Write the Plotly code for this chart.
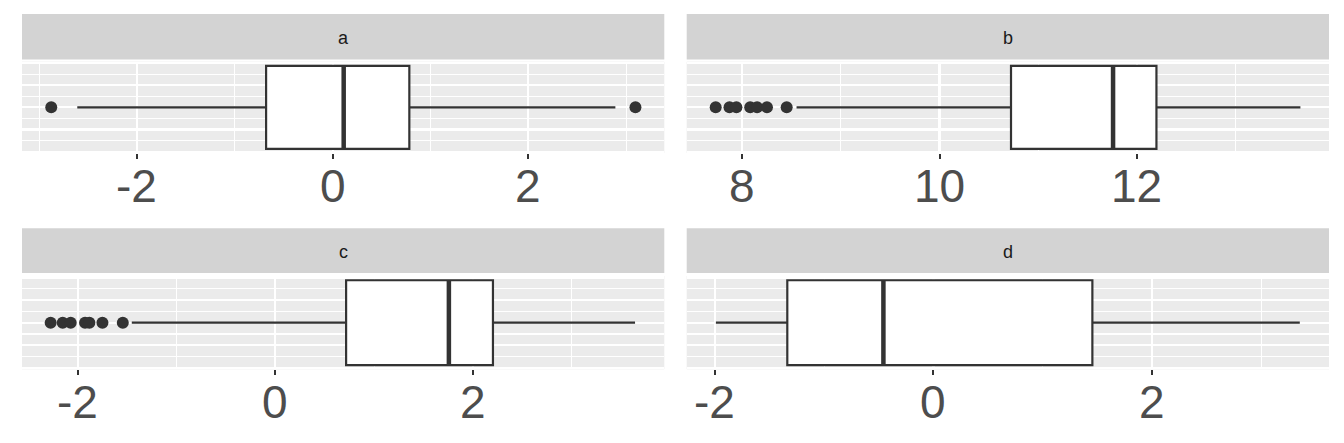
import plotly.graph_objects as go

# ---- data ----
panels = ["a", "b", "c", "d"]
q1 = [-0.68, 10.725, 0.716, -1.337]
median = [0.113, 11.76, 1.756, -0.458]
q3 = [0.784, 12.20, 2.202, 1.453]
lower_whisker = [-2.61, 8.55, -1.453, -1.99]
upper_whisker = [2.89, 13.66, 3.64, 3.35]
outliers = [
    [-2.876, 3.095],
    [7.73, 7.87, 7.94, 8.08, 8.15, 8.25, 8.45],
    [-2.274, -2.152, -2.071, -1.926, -1.882, -1.75, -1.544],
    [],
]
x_ranges = [[-3.175, 3.39], [7.436, 13.95], [-2.564, 3.936], [-2.257, 3.617]]
tick_values = [[-2, 0, 2], [8, 10, 12], [-2, 0, 2], [-2, 0, 2]]
tick_labels = [["-2", "0", "2"], ["8", "10", "12"], ["-2", "0", "2"], ["-2", "0", "2"]]

# ---- layout geometry ----
W, H = 1344, 443
col_x = [(22, 664.3), (686.7, 1329)]
row_panel = [(61.7, 153), (276, 369.3)]
row_strip = [(14, 59.5), (228.3, 273)]
row_label = [186, 402]
box_half = 0.375
y_range = [-0.4125, 0.4125]

DARK = "#333333"
fig = go.Figure()
layout = dict(
    width=W, height=H, margin=dict(l=0, r=0, t=0, b=0, autoexpand=False),
    paper_bgcolor="white", plot_bgcolor="#EBEBEB", showlegend=False,
    font=dict(family="Liberation Sans, Arial, sans-serif"),
)
shapes, annotations = [], []

for i, name in enumerate(panels):
    r, c = divmod(i, 2)
    ax = "" if i == 0 else str(i + 1)
    x0, x1 = col_x[c]
    p0, p1 = row_panel[r]
    s0, s1 = row_strip[r]
    layout["xaxis" + ax] = dict(
        domain=[x0 / W, x1 / W], anchor="y" + ax, range=x_ranges[i],
        tickmode="array", tickvals=tick_values[i], showticklabels=False,
        showgrid=True, gridcolor="white", gridwidth=2.2,
        minor=dict(dtick=1, tick0=0, showgrid=True, gridcolor="white", gridwidth=1.1),
        ticks="outside", ticklen=5, tickwidth=2, tickcolor=DARK,
        zeroline=False, showline=False, fixedrange=True, automargin=False,
    )
    layout["yaxis" + ax] = dict(
        domain=[1 - p1 / H, 1 - p0 / H], anchor="x" + ax, range=y_range,
        tick0=0, dtick=0.2, showgrid=True, gridcolor="white", gridwidth=2.2,
        minor=dict(dtick=0.1, showgrid=True, gridcolor="white", gridwidth=1.1),
        showticklabels=False, ticks="", zeroline=False, showline=False,
        fixedrange=True, automargin=False,
    )
    fig.add_trace(go.Box(
        y=[0], q1=[q1[i]], median=[median[i]], q3=[q3[i]],
        lowerfence=[lower_whisker[i]], upperfence=[upper_whisker[i]],
        orientation="h", width=2 * box_half, whiskerwidth=0,
        fillcolor="white", line=dict(color=DARK, width=2.2),
        boxpoints=False, hoverinfo="skip",
        xaxis="x" + ax, yaxis="y" + ax,
    ))
    fig.add_trace(go.Scatter(
        x=[median[i], median[i]], y=[-box_half, box_half], mode="lines",
        line=dict(color=DARK, width=4.5), hoverinfo="skip",
        xaxis="x" + ax, yaxis="y" + ax,
    ))
    if outliers[i]:
        fig.add_trace(go.Scatter(
            x=outliers[i], y=[0] * len(outliers[i]), mode="markers",
            marker=dict(color=DARK, size=12, line=dict(width=0)),
            hoverinfo="skip", xaxis="x" + ax, yaxis="y" + ax,
        ))
    shapes.append(dict(
        type="rect", xref="paper", yref="paper",
        x0=x0 / W, x1=x1 / W, y0=1 - s1 / H, y1=1 - s0 / H,
        fillcolor="#D3D3D3", line=dict(width=0), layer="below",
    ))
    annotations.append(dict(
        text=name, xref="paper", yref="paper",
        x=(x0 + x1) / 2 / W, y=1 - (s0 + s1 + 3) / 2 / H,
        xanchor="center", yanchor="middle", showarrow=False,
        font=dict(size=18, color="#1A1A1A"),
    ))
    for tv, tl in zip(tick_values[i], tick_labels[i]):
        annotations.append(dict(
            text=tl, xref="x" + ax, yref="paper",
            x=tv, y=1 - row_label[r] / H,
            xanchor="center", yanchor="middle", showarrow=False,
            font=dict(size=46, color="#4D4D4D"),
        ))

layout["shapes"] = shapes
layout["annotations"] = annotations
fig.update_layout(**layout)
fig.write_html(
    "out.html",
    config={"displayModeBar": False, "staticPlot": True},
    post_script="document.body.style.margin='0';document.body.style.padding='0';",
)
